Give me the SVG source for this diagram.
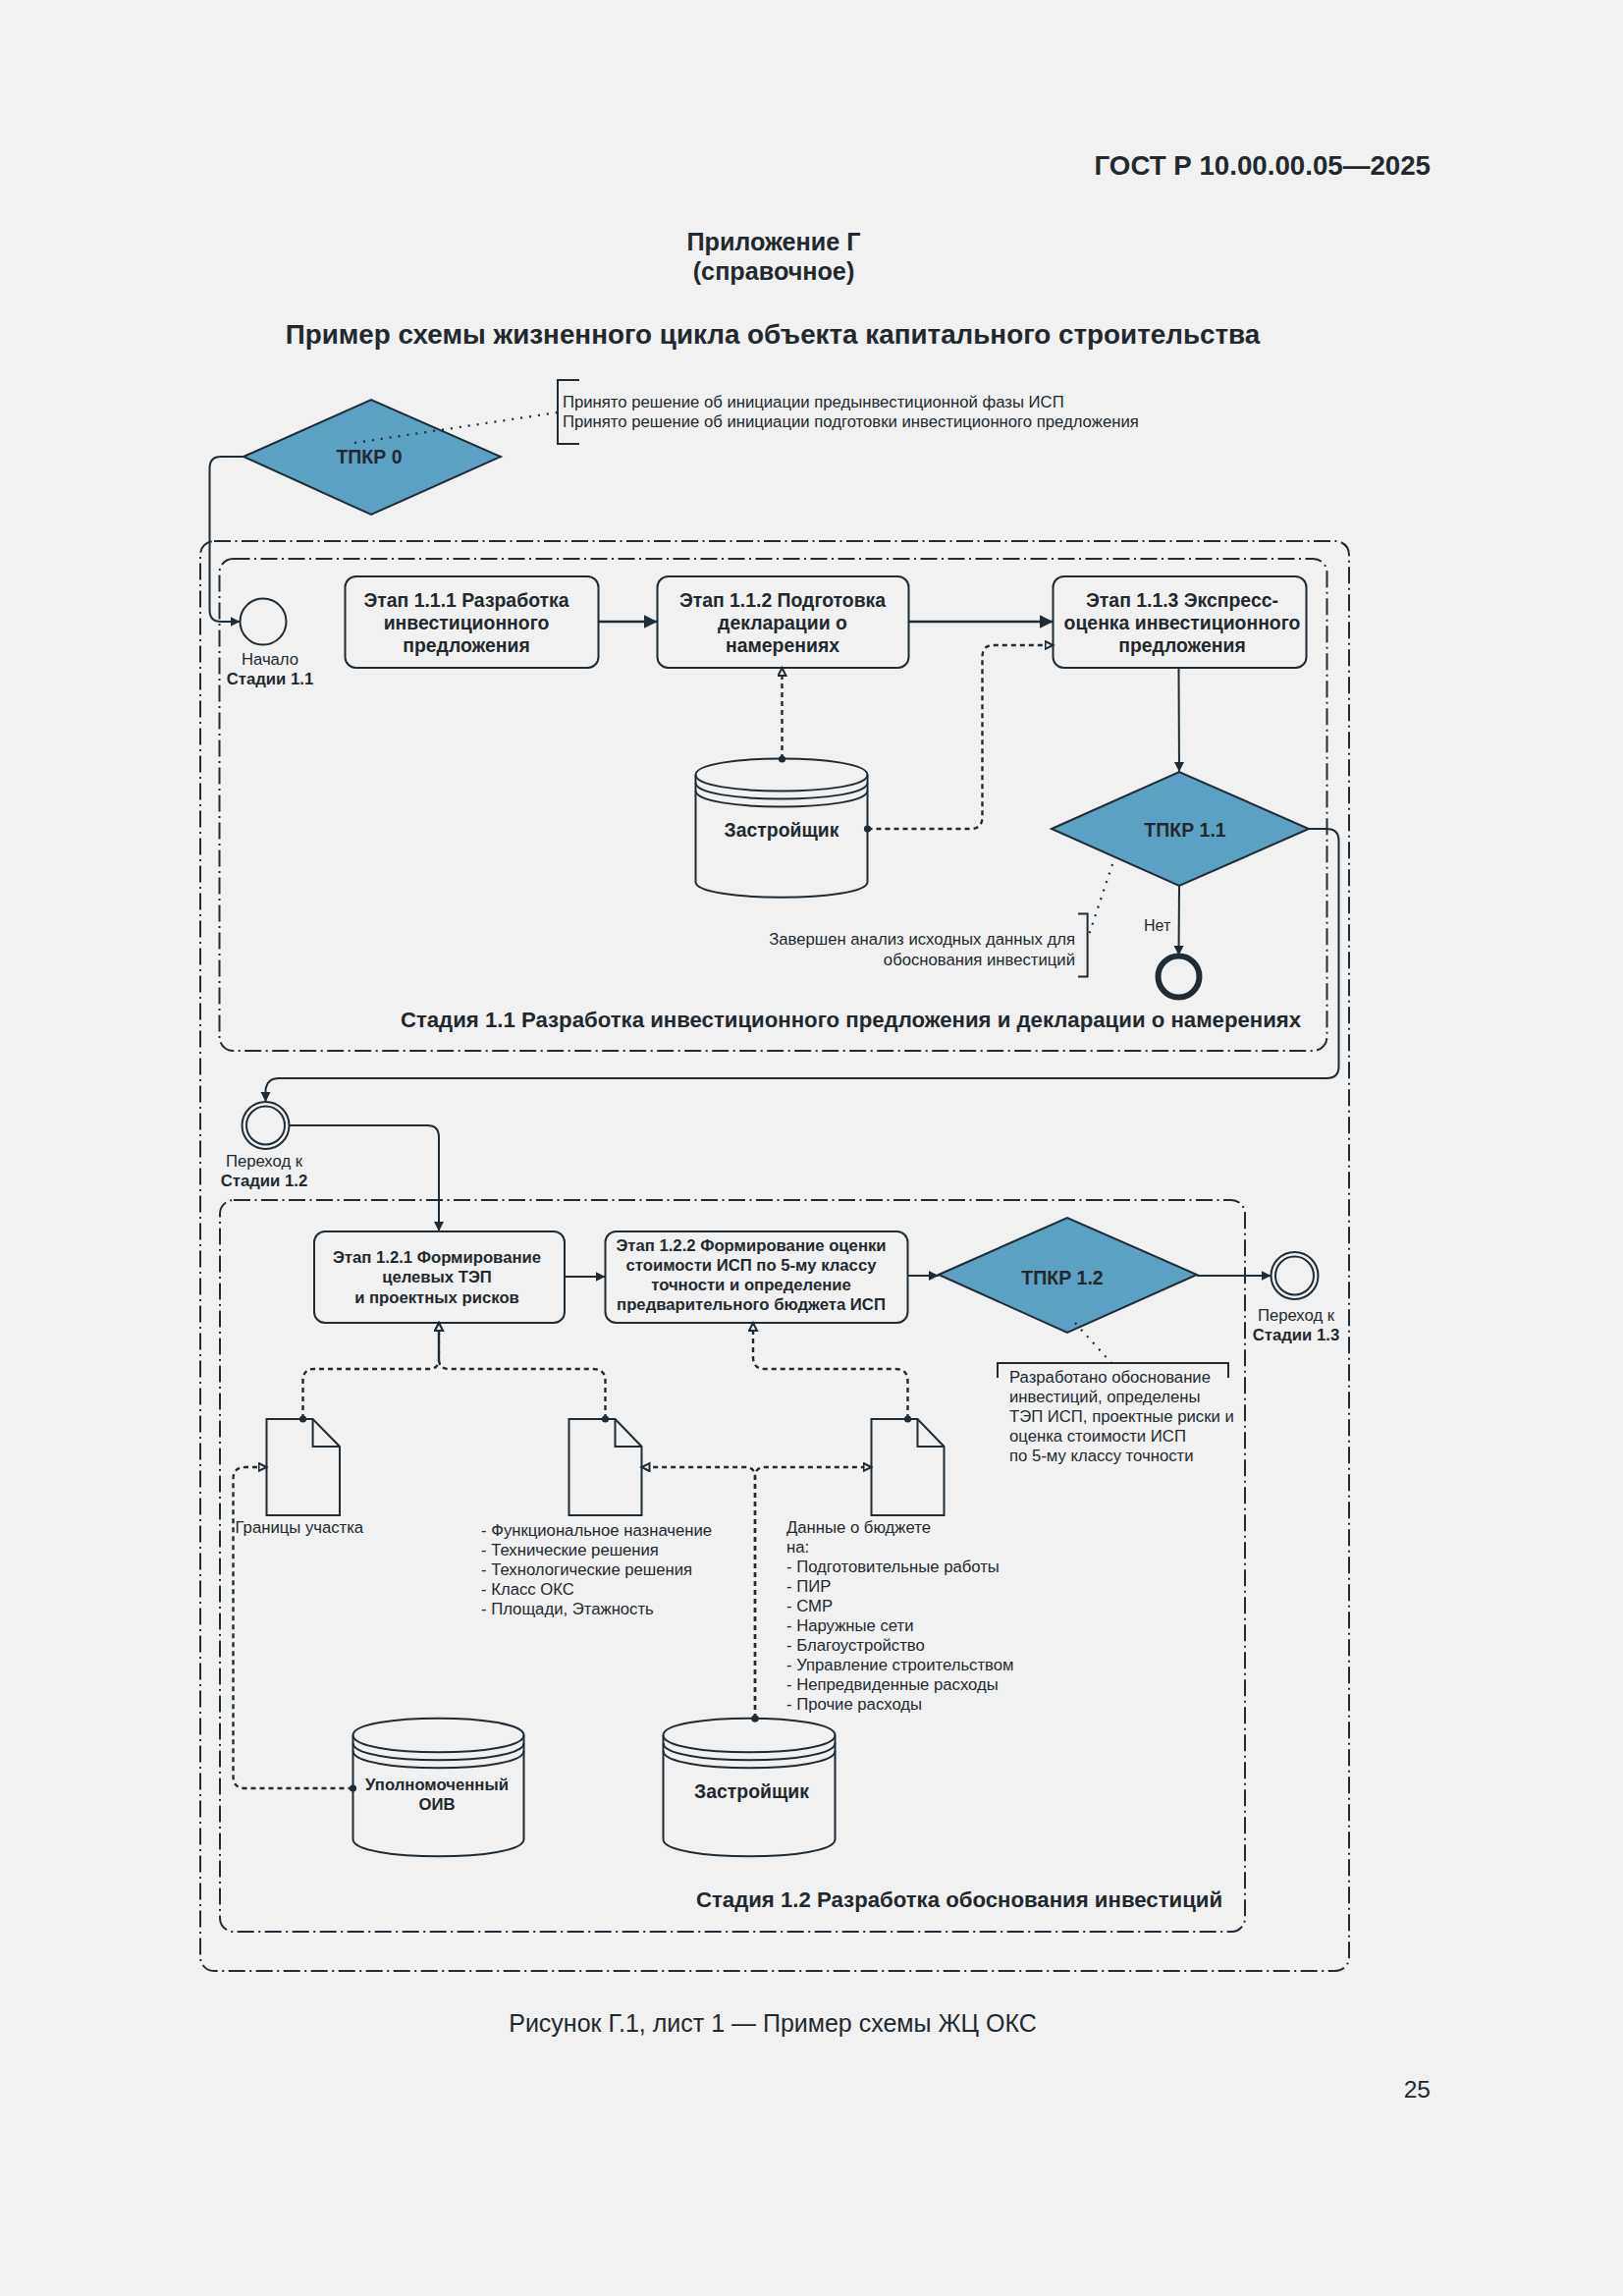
<svg xmlns="http://www.w3.org/2000/svg" width="1653" height="2338" viewBox="0 0 1653 2338">
<style>
text{font-family:"Liberation Sans",Arial,sans-serif;fill:#22292e}
.b{font-weight:700}
.m{text-anchor:middle}
.e{text-anchor:end}
.t16{font-size:16.7px}
.t15{font-size:16px}
.b18{font-size:19.4px;font-weight:700}
.b16{font-size:16.7px;font-weight:700}
.s{fill:none;stroke:#1f2c36;stroke-width:2}
.box{fill:#f1f1f1;stroke:#1f2c36;stroke-width:2}
.dia{fill:#5ba1c3;stroke:#1f2c36;stroke-width:2}
.frame{fill:none;stroke:#1f2c36;stroke-width:2;stroke-dasharray:17 4.5 2 4.5}
.solid{fill:none;stroke:#1f2c36;stroke-width:2;marker-end:url(#arr)}
.thick{fill:none;stroke:#1f2c36;stroke-width:2.6;marker-end:url(#arrL)}
.dash{fill:none;stroke:#1f2c36;stroke-width:2.4;stroke-dasharray:5 4;marker-start:url(#dot);marker-end:url(#open)}
.dot{fill:none;stroke:#1f2c36;stroke-width:2.2;stroke-dasharray:2 7}
</style>
<defs>
<marker id="arr" markerUnits="userSpaceOnUse" markerWidth="12" markerHeight="12" refX="10" refY="5" orient="auto"><path d="M0 0L10 5L0 10Z" fill="#1f2c36"/></marker>
<marker id="arrL" markerUnits="userSpaceOnUse" markerWidth="16" markerHeight="16" refX="14" refY="7" orient="auto"><path d="M0 0L14 7L0 14Z" fill="#1f2c36"/></marker>
<marker id="open" markerUnits="userSpaceOnUse" markerWidth="12" markerHeight="12" refX="9" refY="5" orient="auto"><path d="M1 1L9 5L1 9Z" fill="#f1f1f1" stroke="#1f2c36" stroke-width="2"/></marker>
<marker id="dot" markerUnits="userSpaceOnUse" markerWidth="10" markerHeight="10" refX="5" refY="5"><circle cx="5" cy="5" r="3.6" fill="#1f2c36"/></marker>
</defs>
<rect width="1653" height="2338" fill="#f1f1f1"/>

<g id="header">
<text class="b e" x="1457" y="178" font-size="27.7">ГОСТ Р 10.00.00.05—2025</text>
<text class="b m" x="788" y="255" font-size="25.2">Приложение Г</text>
<text class="b m" x="788" y="285" font-size="25.2">(справочное)</text>
<text class="b m" x="787" y="350" font-size="27.8">Пример схемы жизненного цикла объекта капитального строительства</text>
</g>

<g id="frames">
<rect id="frame-outer" class="frame" x="204" y="551" width="1170" height="1456" rx="14"/>
<rect id="frame-stage-1-1" class="frame" x="223.500" y="569" width="1128" height="501" rx="14"/>
<rect id="frame-stage-1-2" class="frame" x="224" y="1222" width="1044" height="745" rx="14"/>
</g>

<g id="tpkr0">
<polygon class="dia" points="248,465 378,407 510,465 378,524"/>
<text class="b m" x="376" y="472" font-size="19.500">ТПКР 0</text>
</g>
<g id="note0">
<path class="s" d="M590 387H568V452H590"/>
<text class="t16" x="573" y="414.500">Принято решение об инициации предынвестиционной фазы ИСП</text>
<text class="t16" x="573" y="434.500">Принято решение об инициации подготовки инвестиционного предложения</text>
</g>
<g id="start-1-1">
<circle class="s" cx="268" cy="633" r="23.500"/>
<text class="m t16" x="275" y="677">Начало</text>
<text class="b m t16" x="275" y="697">Стадии 1.1</text>
</g>
<g id="step-1-1-1">
<rect class="box" x="351.500" y="587" width="258" height="93" rx="11"/>
<text class="b18 m" x="475" y="617.500">Этап 1.1.1 Разработка</text>
<text class="b18 m" x="475" y="640.500">инвестиционного</text>
<text class="b18 m" x="475" y="664">предложения</text>
</g>
<g id="step-1-1-2">
<rect class="box" x="669.500" y="587" width="256" height="93" rx="11"/>
<text class="b18 m" x="797" y="617.500">Этап 1.1.2 Подготовка</text>
<text class="b18 m" x="797" y="640.500">декларации о</text>
<text class="b18 m" x="797" y="664">намерениях</text>
</g>
<g id="step-1-1-3">
<rect class="box" x="1072.500" y="587" width="258" height="93" rx="11"/>
<text class="b18 m" x="1204" y="617.500">Этап 1.1.3 Экспресс-</text>
<text class="b18 m" x="1204" y="640.500">оценка инвестиционного</text>
<text class="b18 m" x="1204" y="664">предложения</text>
</g>
<g id="developer-1">
<path class="box" d="M708.500 789C708.500 767 883.500 767 883.500 789V898C883.500 919 708.500 919 708.500 898Z"/>
<path class="s" d="M708.500 789C708.500 811 883.500 811 883.500 789M708.500 797C708.500 819 883.500 819 883.500 797M708.500 805C708.500 827 883.500 827 883.500 805"/>
<text class="b18 m" x="796" y="852">Застройщик</text>
</g>
<g id="tpkr-1-1">
<polygon class="dia" points="1071,844 1201,786 1333,844 1201,902"/>
<text class="b m" x="1207" y="852" font-size="19.500">ТПКР 1.1</text>
</g>
<g id="end-1-1">
<circle fill="none" stroke="#1f2c36" stroke-width="6" cx="1200.500" cy="994.500" r="21"/>
<text class="t15" x="1165" y="947.500">Нет</text>
</g>
<g id="note-1-1">
<path class="s" d="M1098 930.500H1107.600V994.500H1098"/>
<text class="t16 e" x="1095" y="961.500">Завершен анализ исходных данных для</text>
<text class="t16 e" x="1095" y="982.500">обоснования инвестиций</text>
</g>
<text class="b m" x="866.500" y="1045.500" font-size="22.2">Стадия 1.1 Разработка инвестиционного предложения и декларации о намерениях</text>

<g id="transition-1-2">
<circle class="s" cx="270.500" cy="1146" r="24"/>
<circle class="s" cx="270.500" cy="1146" r="19.500"/>
<text class="m t16" x="269" y="1188">Переход к</text>
<text class="b m t16" x="269" y="1208">Стадии 1.2</text>
</g>
<g id="step-1-2-1">
<rect class="box" x="320" y="1254" width="255" height="93" rx="11"/>
<text class="b16 m" x="445" y="1286">Этап 1.2.1 Формирование</text>
<text class="b16 m" x="445" y="1306">целевых ТЭП</text>
<text class="b16 m" x="445" y="1327">и проектных рисков</text>
</g>
<g id="step-1-2-2">
<rect class="box" x="616.500" y="1254" width="308" height="93" rx="11"/>
<text class="b16 m" x="765" y="1273.500">Этап 1.2.2 Формирование оценки</text>
<text class="b16 m" x="765" y="1293.500">стоимости ИСП по 5-му классу</text>
<text class="b16 m" x="765" y="1313.500">точности и определение</text>
<text class="b16 m" x="765" y="1333.500">предварительного бюджета ИСП</text>
</g>
<g id="tpkr-1-2">
<polygon class="dia" points="956,1298 1087,1240 1219,1298 1087,1357"/>
<text class="b m" x="1082" y="1307.500" font-size="19.500">ТПКР 1.2</text>
</g>
<g id="transition-1-3">
<circle class="s" cx="1318.500" cy="1299" r="24"/>
<circle class="s" cx="1318.500" cy="1299" r="19.500"/>
<text class="m t16" x="1320" y="1345">Переход к</text>
<text class="b m t16" x="1320" y="1365">Стадии 1.3</text>
</g>
<g id="note-1-2">
<path class="s" d="M1016 1403V1388H1251V1403"/>
<text class="t16" x="1028" y="1408">Разработано обоснование</text>
<text class="t16" x="1028" y="1428">инвестиций, определены</text>
<text class="t16" x="1028" y="1448">ТЭП ИСП, проектные риски и</text>
<text class="t16" x="1028" y="1468">оценка стоимости ИСП</text>
<text class="t16" x="1028" y="1488">по 5-му классу точности</text>
</g>
<g id="doc-boundaries">
<path class="box" d="M271.500 1445H318.600L346 1473V1543H271.500Z"/>
<path class="s" d="M318.600 1445V1473H346"/>
<text class="t16" x="239.500" y="1561">Границы участка</text>
</g>
<g id="doc-functions">
<path class="box" d="M579.500 1445H626.500L653.500 1473V1543H579.500Z"/>
<path class="s" d="M626.500 1445V1473H653.500"/>
<text class="t16" x="490" y="1564">- Функциональное назначение</text>
<text class="t16" x="490" y="1584">- Технические решения</text>
<text class="t16" x="490" y="1604">- Технологические решения</text>
<text class="t16" x="490" y="1624">- Класс ОКС</text>
<text class="t16" x="490" y="1644">- Площади, Этажность</text>
</g>
<g id="doc-budget">
<path class="box" d="M887.500 1445H934.500L961.500 1473V1543H887.500Z"/>
<path class="s" d="M934.500 1445V1473H961.500"/>
<text class="t16" x="801" y="1561">Данные о бюджете</text>
<text class="t16" x="801" y="1581">на:</text>
<text class="t16" x="801" y="1601">- Подготовительные работы</text>
<text class="t16" x="801" y="1621">- ПИР</text>
<text class="t16" x="801" y="1641">- СМР</text>
<text class="t16" x="801" y="1661">- Наружные сети</text>
<text class="t16" x="801" y="1681">- Благоустройство</text>
<text class="t16" x="801" y="1701">- Управление строительством</text>
<text class="t16" x="801" y="1721">- Непредвиденные расходы</text>
<text class="t16" x="801" y="1741">- Прочие расходы</text>
</g>
<g id="authority">
<path class="box" d="M359.500 1767C359.500 1744 533.500 1744 533.500 1767V1873C533.500 1896 359.500 1896 359.500 1873Z"/>
<path class="s" d="M359.500 1767C359.500 1790 533.500 1790 533.500 1767M359.500 1775C359.500 1798 533.500 1798 533.500 1775M359.500 1783C359.500 1806 533.500 1806 533.500 1783"/>
<text class="b16 m" x="445" y="1822.500">Уполномоченный</text>
<text class="b16 m" x="445" y="1842.500">ОИВ</text>
</g>
<g id="developer-2">
<path class="box" d="M675.500 1767C675.500 1744 850.500 1744 850.500 1767V1873C850.500 1896 675.500 1896 675.500 1873Z"/>
<path class="s" d="M675.500 1767C675.500 1790 850.500 1790 850.500 1767M675.500 1775C675.500 1798 850.500 1798 850.500 1775M675.500 1783C675.500 1806 850.500 1806 850.500 1783"/>
<text class="b18 m" x="765.500" y="1831">Застройщик</text>
</g>
<text class="b m" x="977" y="1942" font-size="22.2">Стадия 1.2 Разработка обоснования инвестиций</text>

<g id="connectors">
<path class="solid" d="M248 465H225Q213.500 465 213.500 477V621Q213.500 633 225 633H244.500"/>
<path class="thick" d="M609.500 633H669.500"/>
<path class="thick" d="M925.500 633H1072.500"/>
<path class="dash" d="M796.500 773V680"/>
<path class="dash" d="M883.500 844H988Q1000.500 844 1000.500 832V669Q1000.500 657 1012 657H1072.500"/>
<path class="solid" d="M1200.500 680L1201 786"/>
<path class="solid" d="M1201 902L1200.500 973"/>
<path class="solid" d="M1333 844H1351Q1363.500 844 1363.500 856V1086Q1363.500 1098 1351 1098H284Q272 1098 270.500 1110V1122"/>
<path class="solid" d="M294.500 1146H435Q447 1146 447 1158V1254"/>
<path class="solid" d="M575 1300H616.500"/>
<path class="solid" d="M924.500 1299H956"/>
<path class="solid" d="M1219 1299H1294.500"/>
<path class="dash" d="M308.500 1445V1406Q308.500 1394 320 1394H437Q447 1394 447 1384V1347"/>
<path class="dash" d="M616.500 1445V1406Q616.500 1394 604 1394H457Q447 1394 447 1384V1347"/>
<path class="dash" d="M924.500 1445V1406Q924.500 1394 912 1394H779Q767 1394 767 1382V1347"/>
<path class="dash" d="M359.500 1821H250Q237.500 1821 237.500 1809V1506Q237.500 1494 250 1494H271.500"/>
<path class="dash" d="M769 1750V1504Q769 1494 759 1494H653.500"/>
<path class="dash" d="M769 1750V1504Q769 1494 779 1494H887.500"/>
<path class="dot" d="M361 451L568 420"/>
<path class="dot" d="M1133 880L1108 955"/>
<path class="dot" d="M1095 1347L1132 1388"/>
</g>

<g id="footer">
<text class="m" x="787" y="2069" font-size="25">Рисунок Г.1, лист 1 — Пример схемы ЖЦ ОКС</text>
<text class="e" x="1457" y="2136" font-size="24.500">25</text>
</g>
</svg>
